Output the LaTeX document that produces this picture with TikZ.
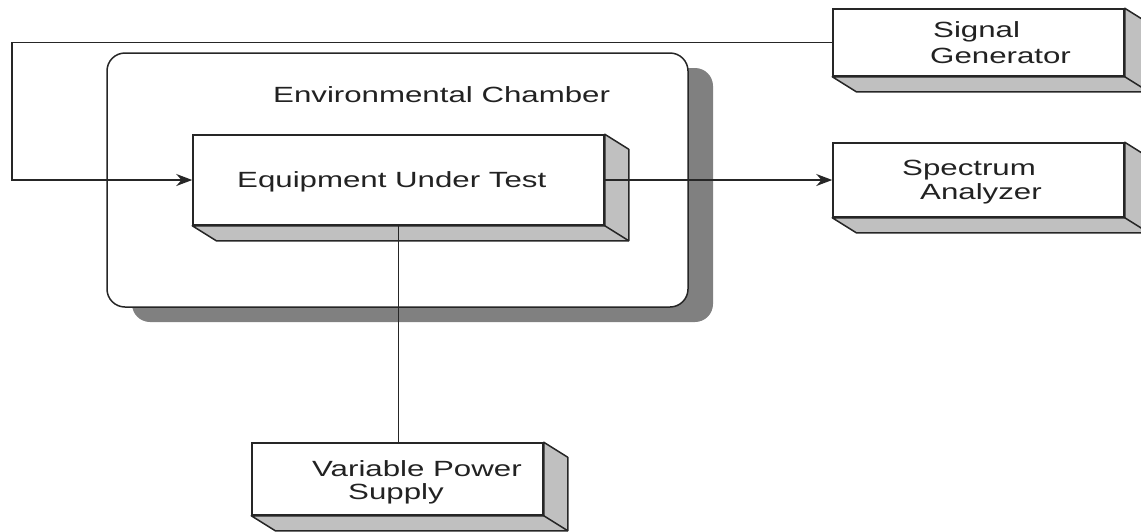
\documentclass[tikz,border=0pt]{standalone}
\usepackage{fontspec}
\setmainfont{Liberation Sans}
\usepackage{graphicx}
\usetikzlibrary{arrows.meta,calc}
\newcommand\sx[1]{\scalebox{1.42}[1]{#1}}
\definecolor{sidegray}{HTML}{C0C0C0}
\definecolor{shadowgray}{HTML}{808080}
\definecolor{txt}{HTML}{222222}
\tikzset{
  front/.style={draw=black!85, line width=1.5pt, fill=white, rectangle, inner sep=0pt},
  depthface/.style={draw=black!85, line width=1.5pt, fill=sidegray, line join=round},
  conn/.style={draw=black!85, line width=1.5pt},
  lbl/.style={anchor=base west, inner sep=0pt, text=txt, font=\fontsize{22}{26}\selectfont},
}
\newcommand\depthbox[1]{%
  \path[depthface] (#1.south west) -- ++(24,15) -- ($(#1.south east)+(24,15)$) -- ($(#1.north east)+(24,15)$) -- (#1.north east) -- (#1.south east) -- cycle;
  \draw[conn] (#1.south east) -- ++(24,15);
}
\begin{document}
\begin{tikzpicture}[x=1pt,y=-1pt]
\useasboundingbox (0,0) rectangle (1141,531);
% chamber
\fill[shadowgray, rounded corners=18pt] (132,68) rectangle (713,322);
\draw[conn, fill=white, rounded corners=18pt] (107,53) rectangle (688,307);
\node[lbl] (envt) at (273,102) {\sx{Environmental Chamber}};
% boxes
\node[front, minimum width=411pt, minimum height=90pt] (eut) at (398.5,180) {};
\depthbox{eut}
\node[front, minimum width=291pt, minimum height=67pt] (sg) at (978.5,42.5) {};
\depthbox{sg}
\node[front, minimum width=291pt, minimum height=74pt] (sa) at (978.5,180) {};
\depthbox{sa}
\node[front, minimum width=291pt, minimum height=72pt] (vps) at (397.5,479) {};
\depthbox{vps}
% connectors
\coordinate (c1) at (12,42.5);
\coordinate (c2) at (12,180);
\draw[conn, -{Stealth[length=16pt,width=12pt]}] (sg.west) -- (c1) -- (c2) -- (eut.west);
\draw[conn, -{Stealth[length=16pt,width=12pt]}] (eut.east) -- (sa.west);
\draw[conn] (eut.south) -- (eut.south |- vps.north);
% labels
\node[lbl] (eutt) at (237,187) {\sx{Equipment Under Test}};
\node[lbl] (sg1) at (933,37) {\sx{Signal}};
\node[lbl] (sg2) at (930,63) {\sx{Generator}};
\node[lbl] (sa1) at (902,175) {\sx{Spectrum}};
\node[lbl] (sa2) at (920,199) {\sx{Analyzer}};
\node[lbl] (vp1) at (312,476) {\sx{Variable Power}};
\node[lbl] (vp2) at (348,499) {\sx{Supply}};
\end{tikzpicture}
\end{document}
